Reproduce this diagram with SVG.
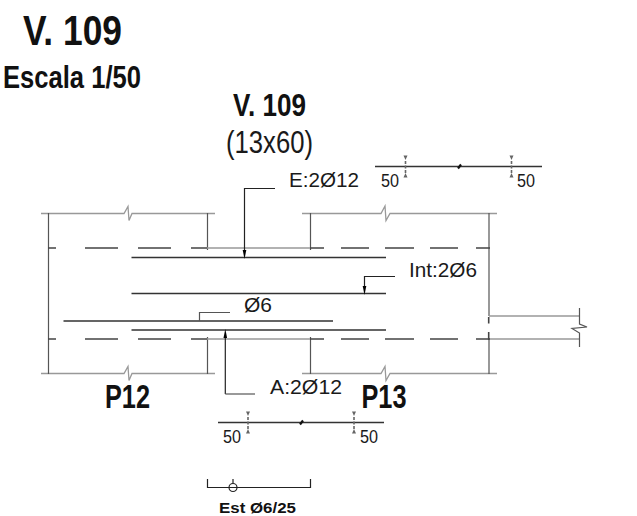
<svg xmlns="http://www.w3.org/2000/svg" width="637" height="516" viewBox="0 0 637 516">
<style>
text{font-family:"Liberation Sans",Arial,sans-serif;fill:#1a1a1a}
.b{font-weight:700;fill:#111}
.l{fill:none;stroke:#555;stroke-width:1.2}
.g{fill:none;stroke:#999;stroke-width:1.3}
.d{fill:none;stroke:#444;stroke-width:1.6}
.r{fill:none;stroke:#333;stroke-width:1.5}
.k{fill:none;stroke:#222;stroke-width:1.2}
.s{fill:none;stroke:#111;stroke-width:2.2}
.t{fill:none;stroke:#666;stroke-width:1.6;stroke-dasharray:3 1.5}
.a{fill:#000;stroke:none}
.m{fill:#666;stroke:none}
</style>
<rect width="637" height="516" fill="#fff"/>
<g id="titles">
<text class="b" x="23" y="45" font-size="43" textLength="99" lengthAdjust="spacingAndGlyphs">V. 109</text>
<text class="b" x="3" y="88" font-size="31" textLength="138" lengthAdjust="spacingAndGlyphs">Escala 1/50</text>
<text class="b" x="233" y="115.500" font-size="32" textLength="73" lengthAdjust="spacingAndGlyphs">V. 109</text>
<text x="226" y="153" font-size="32" textLength="87" lengthAdjust="spacingAndGlyphs">(13x60)</text>
</g>
<g id="beam-outline">
<path class="g" d="M41 213.500H124L128 206.500L129 220.500L132 213.500H215"/>
<path class="g" d="M41 373.500H124L128 366.500L129 380.500L132 373.500H215"/>
<path class="g" d="M302 213.500H381L385 206L386 220.500L390 213.500H497"/>
<path class="g" d="M302 373.500H381L385 366.500L386 380.500L390 373.500H497"/>
<path class="l" d="M48.500 213V374M207.500 213V250M207.500 337V374M310.500 213V250M310.500 337V374M489 213V316M489 340V374"/>
<path class="g" d="M207 248H310M207 339H310"/>
<path class="g" d="M489 316H579M489 339H579"/>
<path class="l" d="M579.500 308V324L587 327L572 328.500L579.500 333V347"/>
</g>
<g id="dashed-lines">
<path class="d" d="M48 248H56M85 248H118M138 248H171M191 248H207M310 248H324M341 248H369M385 248H414M430 248H458M476 248H490"/>
<path class="d" d="M48 339H56M85 339H118M138 339H171M191 339H207M310 339H324M341 339H369M385 339H414M430 339H458M476 339H490"/>
<path class="d" d="M488.700 317V323.500M488.700 332V340"/>
</g>
<g id="bars">
<path class="r" d="M131.500 257.500H386M131.500 293.500H386M63.500 321H333M131.500 330H386"/>
</g>
<g id="connectors">
<path class="k" d="M275 188.500H244.500V252"/>
<polygon class="a" points="244.500,259 242.700,250 246.300,250"/>
<path class="k" d="M395 276.500H364.500V288"/>
<polygon class="a" points="364.500,295 362.700,286 366.300,286"/>
<path class="l" d="M230 312.500H199.500V321"/>
<path class="k" d="M225.300 336V394"/>
<path class="l" d="M225.300 394H255"/>
<polygon class="a" points="225.300,329 223.500,338 227.100,338"/>
</g>
<g id="labels">
<text x="289" y="187" font-size="21" textLength="70" lengthAdjust="spacingAndGlyphs">E:2Ø12</text>
<text x="409" y="277" font-size="21" textLength="68" lengthAdjust="spacingAndGlyphs">Int:2Ø6</text>
<text x="244" y="312" font-size="21" textLength="28" lengthAdjust="spacingAndGlyphs">Ø6</text>
<text x="270" y="394" font-size="21" textLength="72" lengthAdjust="spacingAndGlyphs">A:2Ø12</text>
<text class="b" x="105" y="407.500" font-size="33" textLength="45" lengthAdjust="spacingAndGlyphs">P12</text>
<text class="b" x="361.500" y="407.500" font-size="33" textLength="45" lengthAdjust="spacingAndGlyphs">P13</text>
</g>
<g id="section-top">
<path class="r" d="M375 166.500H542"/>
<path class="t" d="M405.500 161V173M511.500 161V173"/>
<path class="m" d="M403.500 155.500H407.500L405.500 160ZM509.500 155.500H513.500L511.500 160ZM405.500 173L407.500 177.500H403.500ZM511.500 173L513.500 177.500H509.500Z"/>
<path class="s" d="M458 168.500L461 164.500"/>
<text x="381" y="186.500" font-size="17.500" textLength="18" lengthAdjust="spacingAndGlyphs">50</text>
<text x="517" y="186.500" font-size="17.500" textLength="18" lengthAdjust="spacingAndGlyphs">50</text>
</g>
<g id="section-bottom">
<path class="r" d="M218 422.500H384"/>
<path class="t" d="M248 417V429M354 417V429"/>
<path class="m" d="M246 411.500H250L248 416ZM352 411.500H356L354 416ZM248 429L250 433.500H246ZM354 429L356 433.500H352Z"/>
<path class="s" d="M300 424.500L303 420.500"/>
<text x="223" y="442.500" font-size="17.500" textLength="18" lengthAdjust="spacingAndGlyphs">50</text>
<text x="360" y="442.500" font-size="17.500" textLength="18" lengthAdjust="spacingAndGlyphs">50</text>
</g>
<g id="stirrup">
<path class="k" d="M207.500 479V487.500H310.500V479M233 479V483"/>
<circle class="k" cx="233" cy="487.500" r="4"/>
<text class="b" x="219" y="512.500" font-size="15" textLength="77" lengthAdjust="spacingAndGlyphs">Est Ø6/25</text>
</g>
</svg>
